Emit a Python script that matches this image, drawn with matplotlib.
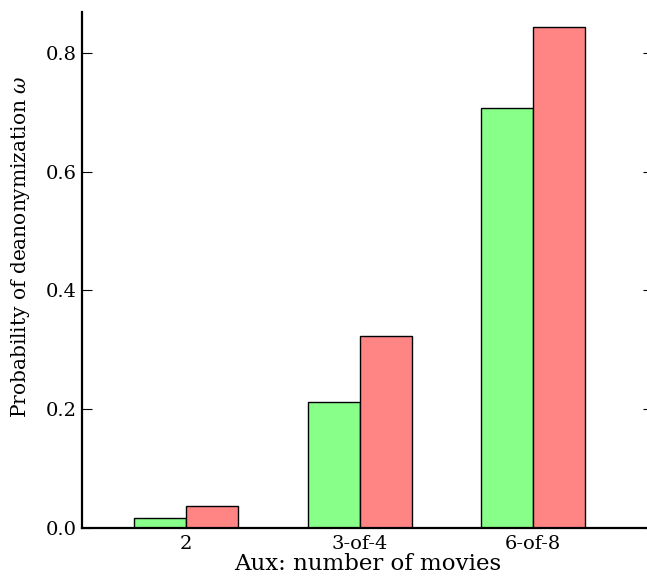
import numpy as np
import matplotlib.pyplot as plt

plt.rcParams['font.family'] = 'DejaVu Serif'
plt.rcParams['mathtext.fontset'] = 'dejavuserif'

aux_sizes = ['2', '3-of-4', '6-of-8']
prob_green = [0.017, 0.212, 0.707]
prob_red = [0.037, 0.323, 0.844]

x = np.arange(len(aux_sizes))
width = 0.3

fig = plt.figure(figsize=(6.47, 5.81), dpi=100)
ax = fig.add_axes([82 / 647, 53 / 581, 571 / 647, 516 / 581])

ax.bar(x - width, prob_green, width, align='edge', color='#88ff88',
       edgecolor='black', linewidth=1.0)
ax.bar(x, prob_red, width, align='edge', color='#ff8585',
       edgecolor='black', linewidth=1.0)

ax.set_xlim(-0.6, 2.69)
ax.set_ylim(0, 0.869)
ax.set_xticks(x)
ax.set_xticklabels(aux_sizes)
ax.set_yticks([0.0, 0.2, 0.4, 0.6, 0.8])

ax.spines['top'].set_visible(False)
ax.spines['right'].set_visible(False)
ax.spines['left'].set_linewidth(1.6)
ax.spines['bottom'].set_linewidth(1.6)

ax.tick_params(axis='x', length=0, labelsize=14, pad=5)
ax.tick_params(axis='y', direction='in', length=7, width=0.8,
               right=True, labelsize=14, pad=4)

ax.set_xlabel('Aux: number of movies', fontsize=16.5, labelpad=0)
ax.set_ylabel(r'Probability of deanonymization $\omega$', fontsize=14.5)
ax.yaxis.set_label_coords(-0.088, 0.545)

fig.savefig('out.png', dpi=100)
